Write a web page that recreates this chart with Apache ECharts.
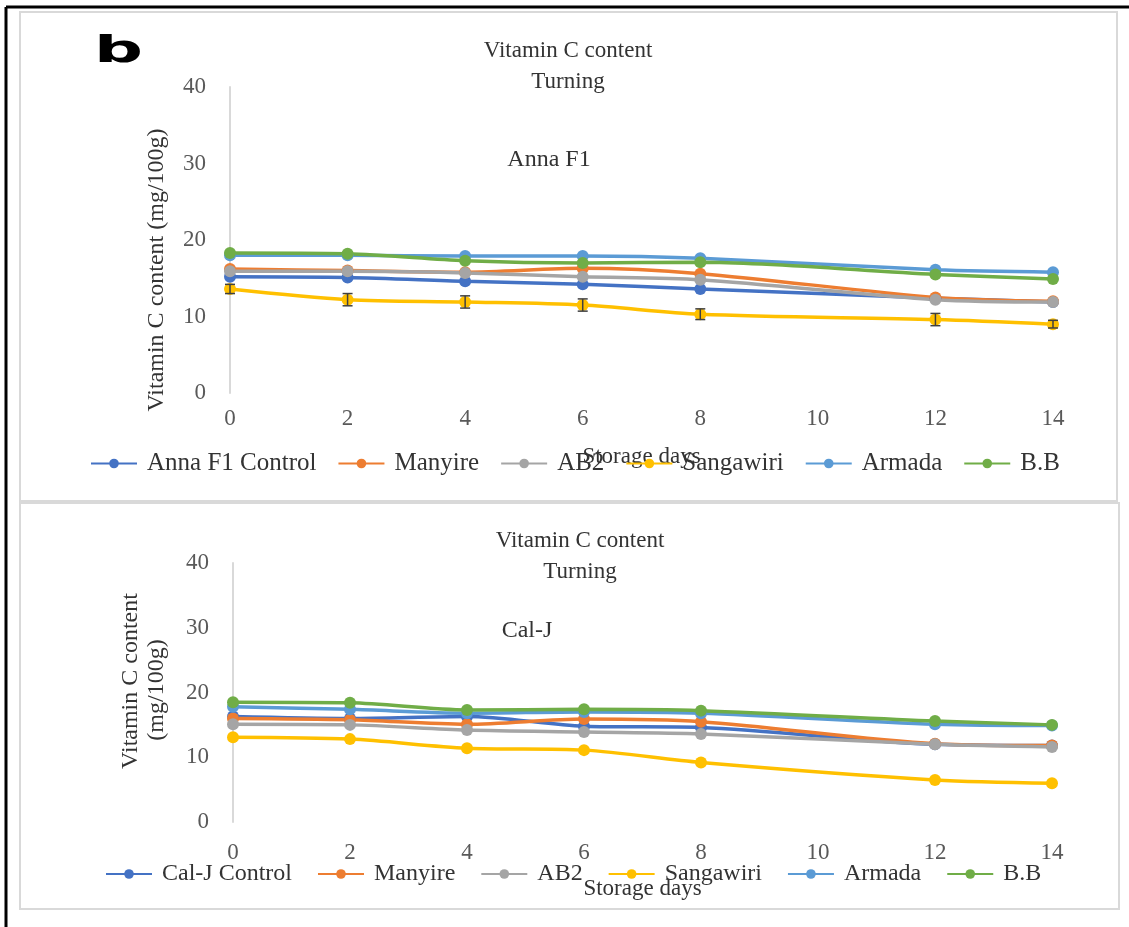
<!DOCTYPE html>
<html>
<head>
<meta charset="utf-8">
<title>Vitamin C content – Turning</title>
<script src="https://cdn.jsdelivr.net/npm/echarts@6/dist/echarts.min.js"></script>
<style>
  html, body { margin: 0; padding: 0; background: #ffffff; }
  #chart { width: 1129px; height: 927px; }
</style>
</head>
<body>
<div id="chart"></div>
<script>
// Storage days at which vitamin C was measured
const days = [0, 2, 4, 6, 8, 12, 14];
const xTicks = [0, 2, 4, 6, 8, 10, 12, 14];
const yTicks = [0, 10, 20, 30, 40];

const seriesNames = ['Manyire', 'AB2', 'Sangawiri', 'Armada', 'B.B'];

// Anna F1 panel (mg/100g)
const annaControl   = [15.2, 15.1, 14.6, 14.2, 13.6, 12.4, 11.9];
const annaManyire   = [16.2, 16.0, 15.8, 16.3, 15.6, 12.5, 12.0];
const annaAB2       = [15.9, 15.9, 15.7, 15.2, 14.8, 12.2, 11.9];
const annaSangawiri = [13.6, 12.2, 11.9, 11.5, 10.3,  9.6,  9.0];
const annaArmada    = [18.0, 18.0, 17.9, 17.9, 17.6, 16.1, 15.8];
const annaBB        = [18.3, 18.2, 17.3, 17.0, 17.1, 15.5, 14.9];
const annaSangawiriErr = [0.6, 0.8, 0.8, 0.8, 0.7, 0.8, 0.5];

// Cal-J panel (mg/100g)
const calControl   = [16.3, 16.0, 16.3, 14.8, 14.6, 12.0, 11.8];
const calManyire   = [16.0, 15.8, 15.1, 15.9, 15.5, 12.1, 11.8];
const calAB2       = [15.1, 15.0, 14.2, 13.9, 13.6, 12.0, 11.6];
const calSangawiri = [13.1, 12.8, 11.4, 11.1,  9.2,  6.5,  6.0];
const calArmada    = [17.8, 17.4, 16.8, 17.0, 16.8, 15.1, 14.9];
const calBB        = [18.5, 18.4, 17.3, 17.4, 17.2, 15.6, 15.0];

const colors = {
  control: '#4472C4', Manyire: '#ED7D31', AB2: '#A5A5A5',
  Sangawiri: '#FFC000', Armada: '#5B9BD5', 'B.B': '#70AD47'
};

const serif = 'Liberation Serif, Times New Roman, serif';
const pair = arr => days.map((d, i) => [d, arr[i]]);

function lineSeries(name, color, values, gridIdx) {
  return {
    type: 'line', name, xAxisIndex: gridIdx, yAxisIndex: gridIdx,
    data: pair(values), smooth: 0.3, symbol: 'circle', symbolSize: 12,
    itemStyle: { color }, lineStyle: { color, width: 3.5 },
    emphasis: { disabled: true }, z: 3
  };
}

function errorBars(values, errs, gridIdx) {
  return {
    type: 'custom', name: 'err', xAxisIndex: gridIdx, yAxisIndex: gridIdx,
    data: days.map((d, i) => [d, values[i] - errs[i], values[i] + errs[i]]),
    renderItem: (params, api) => {
      const lo = api.coord([api.value(0), api.value(1)]);
      const hi = api.coord([api.value(0), api.value(2)]);
      const w = 5;
      const st = { stroke: '#404040', lineWidth: 1.5 };
      return { type: 'group', children: [
        { type: 'line', shape: { x1: lo[0], y1: lo[1], x2: hi[0], y2: hi[1] }, style: st },
        { type: 'line', shape: { x1: lo[0] - w, y1: lo[1], x2: lo[0] + w, y2: lo[1] }, style: st },
        { type: 'line', shape: { x1: hi[0] - w, y1: hi[1], x2: hi[0] + w, y2: hi[1] }, style: st }
      ]};
    },
    z: 4, silent: true
  };
}

function xAxis(gridIdx, margin, gap) {
  return {
    type: 'value', gridIndex: gridIdx, min: 0, max: 14, interval: 2,
    name: 'Storage days', nameLocation: 'middle', nameGap: gap,
    nameTextStyle: { fontFamily: serif, fontSize: 23, color: '#333' },
    axisLine: { show: false }, axisTick: { show: false }, splitLine: { show: false },
    axisLabel: { fontFamily: serif, fontSize: 23, color: '#595959', margin }
  };
}

function yAxis(gridIdx) {
  return {
    type: 'value', gridIndex: gridIdx, min: 0, max: 40, interval: 10,
    axisLine: { show: true, lineStyle: { color: '#d9d9d9', width: 2 } },
    axisTick: { show: false }, splitLine: { show: false },
    axisLabel: { fontFamily: serif, fontSize: 23, color: '#595959', margin: 24 }
  };
}

function legendFor(first, top, left, fs, gap) {
  return {
    top, left, padding: 0, itemWidth: 46, itemHeight: 12, itemGap: gap,
    data: [first].concat(seriesNames),
    textStyle: { fontFamily: serif, fontSize: fs, color: '#333', padding: [0, 0, 0, 5] },
    selectedMode: false
  };
}

const chart = echarts.init(document.getElementById('chart'), null, { renderer: 'canvas' });

const series = [
  lineSeries('Anna F1 Control', colors.control, annaControl, 0),
  lineSeries('Manyire', colors.Manyire, annaManyire, 0),
  lineSeries('AB2', colors.AB2, annaAB2, 0),
  lineSeries('Sangawiri', colors.Sangawiri, annaSangawiri, 0),
  errorBars(annaSangawiri, annaSangawiriErr, 0),
  lineSeries('Armada', colors.Armada, annaArmada, 0),
  lineSeries('B.B', colors['B.B'], annaBB, 0),
  lineSeries('Cal-J Control', colors.control, calControl, 1),
  lineSeries('Manyire', colors.Manyire, calManyire, 1),
  lineSeries('AB2', colors.AB2, calAB2, 1),
  lineSeries('Sangawiri', colors.Sangawiri, calSangawiri, 1),
  lineSeries('Armada', colors.Armada, calArmada, 1),
  lineSeries('B.B', colors['B.B'], calBB, 1)
];

const titleStyle = { fontFamily: serif, fontSize: 23, fontWeight: 'normal', color: '#333', lineHeight: 31, align: 'center' };

chart.setOption({
  backgroundColor: '#ffffff',
  animation: false,
  grid: [
    { left: 230, top: 87, width: 823, height: 306 },
    { left: 233, top: 563, width: 819, height: 259 }
  ],
  xAxis: [xAxis(0, 14, 52), xAxis(1, 19, 55)],
  yAxis: [yAxis(0), yAxis(1)],
  legend: [legendFor('Anna F1 Control', 451, 90, 25, 21), legendFor('Cal-J Control', 862, 105, 24, 25)],
  title: [
    { text: 'Vitamin C content\nTurning', left: 563, top: 30, textAlign: 'center', textStyle: titleStyle },
    { text: 'Vitamin C content\nTurning', left: 575, top: 520, textAlign: 'center', textStyle: titleStyle }
  ],
  graphic: [
    // outer frame (top and left edges)
    { type: 'line', shape: { x1: 6, y1: 7, x2: 1129, y2: 7 }, style: { stroke: '#000', lineWidth: 3 } },
    { type: 'line', shape: { x1: 6, y1: 7, x2: 6, y2: 927 }, style: { stroke: '#000', lineWidth: 3 } },
    // chart area borders
    { type: 'rect', shape: { x: 20, y: 12, width: 1097, height: 489 }, style: { fill: 'none', stroke: '#d9d9d9', lineWidth: 2 } },
    { type: 'rect', shape: { x: 20, y: 503, width: 1099, height: 406 }, style: { fill: 'none', stroke: '#d9d9d9', lineWidth: 2 } },
    // panel letter
    { type: 'text', x: 94, y: 71, scaleX: 1.8, style: { text: 'b', fontFamily: 'DejaVu Sans', fontWeight: 'bold', fontSize: 38, fill: '#000', verticalAlign: 'bottom' } },
    // y-axis titles
    { type: 'text', x: 157, y: 270, rotation: Math.PI / 2, style: { text: 'Vitamin C content (mg/100g)', fontFamily: serif, fontSize: 24, fill: '#333', align: 'center', verticalAlign: 'middle' } },
    { type: 'text', x: 131, y: 681, rotation: Math.PI / 2, style: { text: 'Vitamin C content', fontFamily: serif, fontSize: 24, fill: '#333', align: 'center', verticalAlign: 'middle' } },
    { type: 'text', x: 157, y: 690, rotation: Math.PI / 2, style: { text: '(mg/100g)', fontFamily: serif, fontSize: 24, fill: '#333', align: 'center', verticalAlign: 'middle' } },
    // cultivar labels inside plots
    { type: 'text', x: 549, y: 160, style: { text: 'Anna F1', fontFamily: serif, fontSize: 24, fill: '#333', align: 'center', verticalAlign: 'middle' } },
    { type: 'text', x: 527, y: 631, style: { text: 'Cal-J', fontFamily: serif, fontSize: 24, fill: '#333', align: 'center', verticalAlign: 'middle' } }
  ],
  series
});
</script>
</body>
</html>
